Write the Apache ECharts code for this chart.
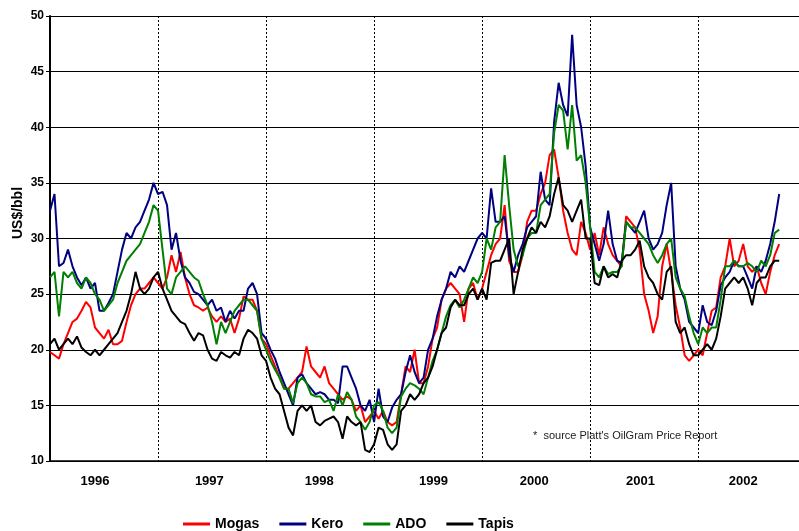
<!DOCTYPE html>
<html>
<head>
<meta charset="utf-8">
<script src="https://cdn.jsdelivr.net/npm/echarts/dist/echarts.min.js"></script>
<style>
  html, body { margin: 0; padding: 0; background: #fff; }
  #chart { width: 799px; height: 531px; }
</style>
</head>
<body>
<div id="chart"></div>
<script>
// half-month samples starting Jan 1996
var mogas = [
  19.8, 19.5, 19.2, 20.5, 21.5, 22.5, 22.8, 23.5, 24.3, 23.8, 22, 21.5, 21, 21.8, 20.5, 20.5, 20.8, 22.5, 24, 25, 25.5, 25.5, 26, 26.5,
  26, 25.5, 26.5, 28.5, 27, 28.8, 26.5, 25, 24, 23.8, 23.5, 23.8, 23, 22.5, 23, 22.5, 22.8, 21.5, 22.8, 24.8, 24.5, 24.5, 23.5, 21,
  20.5, 19.5, 18.5, 17.5, 16.5, 16.5, 17, 17.5, 18, 20.3, 18.5, 18, 17.5, 18.5, 17, 16.5, 16, 15.5, 15.8, 15.5, 14.5, 15, 13.5, 14,
  14.5, 13.8, 14.5, 13.5, 13.2, 13.5, 16, 18.5, 18, 20, 17, 17, 18.5, 21, 22, 24.5, 25.5, 26, 25.5, 25, 22.5, 25.5, 26, 24.5,
  25.5, 27, 28.5, 29.5, 30, 33, 28, 27, 27, 28.5, 31.5, 32.5, 32.5, 34, 35, 37.5, 38, 35.5, 32.5, 30.5, 29, 28.5, 31.5, 30.5,
  29, 30.5, 28.5, 31, 29.5, 28.5, 28, 27.5, 32, 31.5, 31, 29, 25, 23.5, 21.5, 23, 27.5, 29.5, 27, 24, 22, 19.5, 19, 19.5,
  20, 19.5, 21.5, 23.5, 23.8, 26.5, 27.5, 30, 27.5, 28, 29.5, 27.5, 27, 27.5, 26, 25, 27, 28.5, 29.5
];
var kero = [
  32.5, 34, 27.5, 27.8, 29, 27.5, 26.5, 25.8, 26.5, 25.5, 26, 23.5, 23.5, 24.2, 25, 27, 29, 30.5, 30, 31, 31.5, 32.5, 33.5, 35,
  34, 34.2, 33, 29, 30.5, 28, 26.5, 26, 25.2, 25, 24.5, 24, 24.5, 23.5, 23.8, 22.5, 23.5, 22.8, 23.5, 23.5, 25.5, 26, 25, 21.5,
  21, 20, 19.2, 18, 17, 16, 15, 17.5, 17.8, 17, 16.5, 16, 16.2, 16, 15.5, 15.5, 15.2, 18.5, 18.5, 17.5, 16.5, 15, 14.5, 15.5,
  13.5, 16.5, 14, 13.5, 14.8, 15.5, 16, 18, 19.5, 18, 17, 17.5, 20, 21, 23, 24.5, 25.5, 27, 26.5, 27.5, 27, 28, 29, 30,
  30.5, 30, 34.5, 31.5, 31.5, 32, 28.5, 27, 28.5, 29.5, 31, 31.5, 32, 36, 33.5, 33, 40.5, 44, 42, 41, 48.3, 42, 40, 36.5,
  31, 29.5, 28, 29.5, 32.5, 29.5, 28, 27.8, 31.5, 31, 30.5, 31.5, 32.5, 30, 29, 29.5, 30.5, 33, 35, 27.5, 25.5, 24.5, 22.5, 22,
  21.5, 24, 22.5, 22.2, 23.5, 25.8, 26.5, 27, 28, 27.5, 27.5, 26.5, 25.5, 27.5, 27, 28, 29.5, 31.5, 34
];
var ado = [
  26.5, 27, 23, 27, 26.5, 27, 26, 25.5, 26.5, 26, 25, 24.5, 23.5, 24, 24.5, 26, 27, 28, 28.5, 29, 29.5, 30.5, 31.5, 33,
  32.5, 29, 25.5, 25, 26.5, 27, 27.5, 27, 26.5, 26.2, 25, 24, 22.5, 20.5, 22.5, 21.5, 22.5, 23.5, 24, 24.5, 24.5, 24, 23.5, 21,
  20, 19, 18.2, 17.5, 16.5, 16.5, 15.2, 17, 17.5, 17, 16, 15.8, 15.8, 15.3, 15.5, 14.5, 16, 15, 16.2, 15.5, 14, 13.5, 12.8, 13.5,
  15, 15.3, 14.5, 13, 12.5, 13, 15.8, 16.5, 17, 16.8, 16.5, 16, 17.5, 19, 20, 21.5, 23, 24, 24.5, 23.8, 24.5, 25.5, 26.5, 26,
  27, 30, 29, 31, 31.5, 37.5, 33, 29, 27.5, 28.5, 30, 30.5, 30.5, 33, 33.5, 34, 39.5, 42, 41.5, 38, 42, 37, 37.5, 35,
  31, 27, 26.5, 27.5, 26.8, 27, 27, 27.5, 31.5, 31, 31, 30.5, 30, 29.5, 28.5, 27.8, 28.5, 29.5, 30, 26.5, 25.5, 24.8, 23, 21.5,
  20.5, 22, 21.5, 22, 22, 24.5, 27.5, 27.5, 28, 27.5, 27.5, 27.8, 27.5, 27, 28, 27.5, 28.5, 30.5, 30.8
];
var tapis = [
  20.5, 21, 20, 20.5, 21, 20.5, 21.2, 20.2, 19.8, 19.5, 20, 19.5, 20, 20.5, 21, 21.5, 22.5, 23.5, 25, 27, 25.5, 25, 25.5, 26.5,
  27, 25.5, 24.5, 23.5, 23, 22.5, 22.3, 21.5, 20.8, 21.5, 21.3, 20, 19.2, 19, 19.8, 19.5, 19.3, 19.8, 19.5, 21, 21.8, 21.5, 21, 19.5,
  19, 17.5, 16.5, 16, 14.5, 13, 12.3, 14.5, 15, 14.5, 15, 13.5, 13.2, 13.6, 13.8, 14, 13.5, 12, 14, 13.5, 13.2, 13.5, 11, 10.8,
  11.5, 13, 12.8, 11.5, 11, 11.5, 14.5, 15, 16, 15.5, 16, 17, 17.5, 18.5, 20, 21.5, 22, 23.8, 24.5, 24, 24, 25, 25.5, 24.5,
  25.5, 24.5, 27.8, 28, 28, 29, 30, 25, 27, 29, 30, 31, 30.5, 31.5, 31, 32, 34, 35.5, 33, 32.5, 31.5, 32.5, 33.5, 30,
  30, 26, 25.8, 27.5, 26.5, 26.8, 26.5, 28, 28.5, 28.5, 29, 29.8, 27.5, 26.5, 26, 25, 24.5, 27, 27.5, 22.5, 21.5, 22, 20.5, 19.5,
  19.5, 20, 20.5, 20, 21, 23, 25.5, 26, 26.5, 26, 26.5, 25.5, 24, 26, 26.5, 26.5, 27.5, 28, 28
];
var years = ['1996', '1997', '1998', '1999', '2000', '2001', '2002'];
// where the year captions sit, in months from Jan 1996
var yearLabelPos = [5.0, 17.7, 29.9, 42.6, 53.8, 65.6, 77.0];

var font = 'Liberation Sans, Arial, sans-serif';

function pairs(arr) {
    return arr.map(function (v, i) { return [i / 2, v]; });
}

var chart = echarts.init(document.getElementById('chart'));
var option = {
    animation: false,
    backgroundColor: '#fff',
    textStyle: { fontFamily: font },
    grid: { left: 50, top: 16, right: 0, bottom: 70, containLabel: false },
    legend: {
        left: 178,
        top: 512,
        icon: 'rect',
        itemWidth: 27,
        itemHeight: 3,
        itemGap: 20,
        textStyle: { fontFamily: font, fontSize: 14, fontWeight: 'bold', color: '#000' },
        data: ['Mogas', 'Kero', 'ADO', 'Tapis']
    },
    xAxis: [
        {
            type: 'value', min: 0, max: 83.2, interval: 12,
            axisLine: { show: true, lineStyle: { color: '#000', width: 1.5 } },
            axisTick: { show: false },
            axisLabel: { show: false },
            splitLine: { show: true, lineStyle: { color: '#000', width: 1, type: [2, 2] } }
        },
        {
            type: 'value', min: 0, max: 83.2, position: 'bottom',
            axisLine: { show: false },
            axisTick: { show: false },
            splitLine: { show: false },
            axisLabel: {
                customValues: yearLabelPos,
                margin: 14,
                fontFamily: font, fontSize: 13, fontWeight: 'bold', color: '#000',
                formatter: function (v) {
                    var best = 0;
                    for (var i = 1; i < yearLabelPos.length; i++) {
                        if (Math.abs(yearLabelPos[i] - v) < Math.abs(yearLabelPos[best] - v)) best = i;
                    }
                    return years[best];
                }
            }
        }
    ],
    yAxis: {
        type: 'value', min: 10, max: 50, interval: 5,
        axisLine: { show: true, lineStyle: { color: '#000', width: 2 } },
        axisTick: { show: true, length: 4, lineStyle: { color: '#000' } },
        axisLabel: { margin: 6, fontFamily: font, fontSize: 12, fontWeight: 'bold', color: '#000' },
        splitLine: { show: true, lineStyle: { color: '#000', width: 1.2 } }
    },
    graphic: [
        {
            type: 'text', x: 18, y: 213, rotation: Math.PI / 2,
            style: { text: 'US$/bbl', fill: '#000', font: 'bold 14px ' + font, textAlign: 'center', textVerticalAlign: 'middle' }
        },
        {
            type: 'text', left: 533, top: 430,
            style: { text: "*  source Platt's OilGram Price Report", fill: '#222', font: '11px ' + font }
        }
    ],
    series: [
        { name: 'Mogas', type: 'line', data: pairs(mogas), showSymbol: false, color: '#ff0000', lineStyle: { width: 2 } },
        { name: 'Kero', type: 'line', data: pairs(kero), showSymbol: false, color: '#000080', lineStyle: { width: 2 } },
        { name: 'ADO', type: 'line', data: pairs(ado), showSymbol: false, color: '#008000', lineStyle: { width: 2 } },
        { name: 'Tapis', type: 'line', data: pairs(tapis), showSymbol: false, color: '#000000', lineStyle: { width: 2 } }
    ]
};
chart.setOption(option);
</script>
</body>
</html>
